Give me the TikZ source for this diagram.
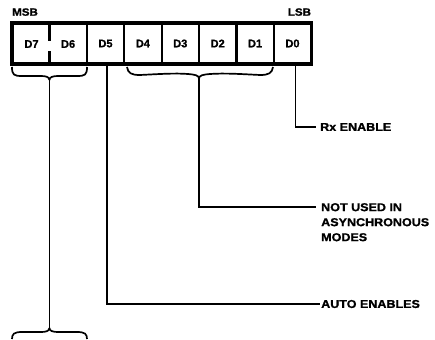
\documentclass[tikz,border=0pt]{standalone}
\usepackage{fontspec}
\setmainfont{Liberation Sans}
\newfontfamily\labfont{Liberation Sans}[FakeStretch=1.1, BoldFeatures={FakeBold=1.2}]
\newfontfamily\celfont{Liberation Sans}[BoldFeatures={FakeBold=1.2}]
\begin{document}
\begin{tikzpicture}[x=1pt,y=1pt,
  cellbox/.style={draw, line width=2.2pt, minimum width=37.4pt, minimum height=41pt, inner sep=0pt, outer sep=0pt},
  celltxt/.style={inner sep=0pt, font=\celfont\bfseries\fontsize{11}{12}\selectfont},
  lab/.style={inner sep=0pt, font=\labfont\bfseries\fontsize{11.4}{15}\selectfont},
  smalllab/.style={inner sep=0pt, font=\labfont\bfseries\fontsize{10.5}{12}\selectfont},
  conn/.style={line width=1.7pt},
  bracepath/.style={line width=1.7pt}]
\useasboundingbox (0,0) rectangle (435,-339);
% register
\node[cellbox, minimum width=74.8pt] (d76) at (49.4,-43.5) {};
\node[cellbox] (d5) at (105.5,-43.5) {};
\node[cellbox] (d4) at (142.9,-43.5) {};
\node[cellbox] (d3) at (180.3,-43.5) {};
\node[cellbox] (d2) at (217.7,-43.5) {};
\node[cellbox] (d1) at (255.1,-43.5) {};
\node[cellbox] (d0) at (292.5,-43.5) {};
\draw[line width=3.2pt] (d76.north west) rectangle (d0.south east);
\draw[line width=2.2pt] (d76.north) -- ++(0,-18.5);
\draw[line width=2.2pt] (d76.south) -- ++(0,12.5);
\node[celltxt] (t7) at (31.5,-44) {D7};
\node[celltxt] (t6) at (68.1,-44) {D6};
\node[celltxt] at (d5) {D5};
\node[celltxt] at (d4) {D4};
\node[celltxt] at (d3) {D3};
\node[celltxt] at (d2) {D2};
\node[celltxt] at (d1) {D1};
\node[celltxt] at (d0) {D0};
% labels
\node[smalllab, anchor=south west] (msb) at (12,-16) {MSB};
\node[smalllab, anchor=south east] (lsb) at (311.2,-16) {LSB};
\node[lab, anchor=west] (rx) at (320,-127) {Rx ENABLE};
\node[lab, anchor=north west, align=left] (nu) at (321,-203) {NOT USED IN\\ASYNCHRONOUS\\MODES};
\node[lab, anchor=west] (auto) at (321,-304) {AUTO ENABLES};
% brace tips
\coordinate (tipa) at (49.4,-80);
\coordinate (tipb) at (199,-78.5);
\coordinate (tipc) at (49.4,-328);
% top brace D7-D6
\draw[bracepath] (12,-67) .. controls (12,-75) and (14,-76) .. (22,-76) -- (41,-76)
  .. controls (46,-76) and (49.4,-77) .. (tipa);
\draw[bracepath] (87,-67) .. controls (87,-75) and (85,-76) .. (77,-76) -- (58,-76)
  .. controls (53,-76) and (49.4,-77) .. (tipa);
% top brace D4-D1
\draw[bracepath] (127,-67) .. controls (128,-73) and (131,-75) .. (140,-75)
  .. controls (160,-74) and (175,-73) .. (188,-74) .. controls (195,-74.5) and (199,-75.5) .. (tipb);
\draw[bracepath] (273,-67) .. controls (272,-73) and (269,-75) .. (260,-75)
  .. controls (240,-74) and (225,-73) .. (210,-74) .. controls (203,-74.5) and (199,-75.5) .. (tipb);
% bottom brace
\draw[bracepath] (12,-339) .. controls (12,-334) and (14,-332) .. (22,-332) -- (41,-332)
  .. controls (46,-332) and (49.4,-331) .. (tipc);
\draw[bracepath] (87,-339) .. controls (87,-334) and (85,-332) .. (77,-332) -- (58,-332)
  .. controls (53,-332) and (49.4,-331) .. (tipc);
% connectors
\draw[conn] (tipa) -- (tipc);
\draw[conn] ([xshift=3pt]d0.south) |- ([xshift=-4pt]rx.west);
\draw[conn] (tipb) |- ([xshift=-5pt,yshift=-4.1pt]nu.north west);
\draw[conn] ([xshift=1.5pt]d5.south) |- ([xshift=-1pt]auto.west);
\end{tikzpicture}
\end{document}
